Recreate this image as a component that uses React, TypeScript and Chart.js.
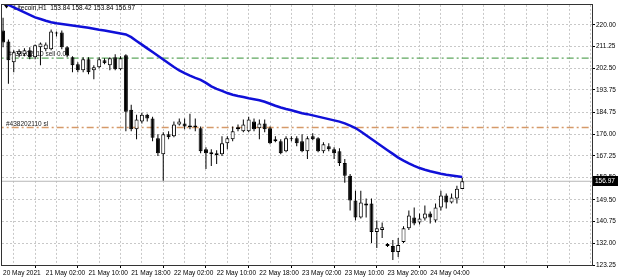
import React, { useEffect, useRef } from "react";
import { Chart, registerables } from "chart.js";

Chart.register(...registerables);

const SYMBOL = "Litecoin,H1";

// Hourly candles (index 0 = 20 May 2021 18:00)
const opens = [
  217.7, 213.3, 204.9, 208.1, 208.1, 209.7, 206.9, 210.9, 210.1, 210.1,
  216.9, 216.9, 210.9, 206.9, 204.1, 201.7, 206.1, 201.7, 202.9, 205.7,
  203.7, 206.9, 202.1, 207.7, 185.8, 177.9, 181.0, 183.8, 182.2, 174.3,
  167.9, 175.9, 175.1, 179.8, 180.2, 179.4, 179.4, 178.3, 169.9, 168.7,
  168.3, 167.9, 172.3, 173.9, 178.7, 177.1, 177.1, 181.0, 178.3, 180.2,
  178.3, 173.9, 173.1, 169.1, 173.9, 174.3, 173.1, 169.1, 175.1, 174.3,
  169.1, 171.1, 169.9, 169.1, 164.3, 159.2, 149.2, 142.4, 148.0, 148.0,
  136.5, 137.3, 131.7, 130.9, 128.5, 132.5, 138.1, 142.4, 140.4, 142.0,
  144.0, 141.2, 146.4, 151.2, 148.4, 150.0, 153.84,
];
const highs = [
  222.8, 214.1, 209.7, 210.1, 210.5, 210.9, 212.1, 212.9, 212.9, 218.1,
  217.3, 217.7, 211.3, 207.3, 204.9, 206.9, 206.9, 203.7, 206.9, 206.5,
  206.9, 208.1, 207.3, 208.1, 187.8, 183.8, 184.6, 184.2, 183.0, 175.9,
  176.7, 177.1, 181.0, 182.2, 182.2, 184.2, 182.2, 179.0, 170.7, 169.9,
  169.5, 175.1, 175.1, 179.0, 179.8, 181.8, 183.0, 182.2, 181.8, 181.8,
  179.0, 175.1, 173.9, 175.1, 175.1, 175.1, 175.9, 175.1, 176.3, 174.7,
  172.7, 172.3, 170.7, 170.3, 165.9, 159.9, 153.2, 153.2, 150.0, 150.0,
  141.2, 140.4, 132.1, 133.3, 134.1, 138.9, 145.2, 146.4, 144.0, 147.2,
  144.8, 148.0, 153.2, 152.0, 152.0, 155.2, 158.42,
];
const lows = [
  210.9, 196.2, 200.9, 206.9, 207.3, 206.1, 206.1, 203.7, 209.3, 209.7,
  215.3, 210.1, 206.9, 200.9, 200.9, 200.9, 200.1, 198.1, 202.5, 204.1,
  201.7, 201.7, 201.7, 177.1, 177.1, 173.9, 180.2, 181.0, 173.1, 167.1,
  157.2, 173.9, 174.7, 179.4, 177.9, 177.9, 177.1, 168.3, 161.9, 163.1,
  163.9, 167.1, 169.9, 173.1, 177.1, 176.7, 176.7, 177.1, 173.9, 176.7,
  171.9, 172.7, 167.9, 168.7, 173.1, 171.1, 168.7, 165.9, 173.5, 168.7,
  168.3, 169.1, 165.9, 163.1, 156.4, 145.2, 141.2, 142.0, 142.4, 132.1,
  130.1, 134.1, 130.5, 125.3, 126.5, 132.1, 137.3, 139.3, 139.6, 141.2,
  140.0, 140.4, 145.2, 146.0, 148.0, 148.0, 153.84,
];
const closes = [
  212.9, 205.7, 208.9, 209.3, 209.7, 206.9, 211.7, 212.5, 212.1, 217.3,
  216.5, 210.9, 207.7, 203.7, 201.7, 206.1, 200.9, 202.9, 206.1, 204.5,
  206.5, 202.1, 206.5, 185.0, 177.9, 181.8, 183.8, 182.2, 174.5, 168.3,
  175.9, 174.7, 179.8, 181.0, 179.0, 178.7, 178.7, 169.1, 168.3, 167.9,
  167.5, 172.3, 174.3, 177.1, 177.9, 179.8, 181.8, 177.9, 180.2, 177.9,
  172.3, 173.1, 168.3, 174.3, 174.3, 172.3, 169.1, 174.3, 173.9, 169.1,
  171.9, 169.9, 168.3, 164.3, 159.2, 149.2, 142.4, 148.4, 147.2, 136.5,
  138.1, 138.5, 130.9, 128.5, 131.3, 138.1, 143.2, 140.0, 142.0, 144.0,
  142.4, 146.4, 151.2, 148.4, 150.4, 154.0, 156.97,
];
// Moving average
const ma = [
  229.0, 228.0, 227.0, 226.0, 225.0, 224.0, 223.0, 222.3, 221.6, 221.0,
  220.6, 220.3, 220.0, 219.7, 219.4, 219.1, 218.8, 218.4, 218.0, 217.7,
  217.3, 216.9, 216.5, 216.1, 215.0, 213.5, 212.0, 210.5, 209.0, 207.5,
  206.0, 204.5, 203.0, 201.6, 200.5, 199.5, 198.6, 197.8, 196.6, 195.2,
  194.2, 193.4, 192.5, 191.8, 191.3, 190.9, 190.4, 190.0, 189.6, 189.0,
  188.2, 187.4, 186.7, 186.1, 185.6, 185.0, 184.4, 184.0, 183.5, 183.0,
  182.5, 182.0, 181.5, 181.0, 180.3, 179.4, 178.4, 177.0, 175.5, 174.0,
  172.5, 171.0, 169.5, 168.0, 166.5, 165.3, 164.2, 163.2, 162.3, 161.6,
  161.0, 160.5, 160.0, 159.6, 159.3, 159.0, 158.7,
];

const xTickLabels = [
  "20 May 2021", "21 May 02:00", "21 May 10:00", "21 May 18:00",
  "22 May 02:00", "22 May 10:00", "22 May 18:00", "23 May 02:00",
  "23 May 10:00", "23 May 20:00", "24 May 04:00",
];
const yTickValues = [220.0, 211.25, 202.5, 193.75, 184.75, 176.0, 167.25, 158.5, 149.5, 140.75, 132.0, 123.25];

const ORDER_ID = "#438202110";
const sellLevel = 206.6;
const slLevel = 178.6;

const X_MIN = -0.2;
const X_MAX = 110.3;
const Y_MIN = 123.25;
const Y_MAX = 228;
const FONT = "Liberation Sans";
const FS = 6.5;

export default function App() {
  const ref = useRef<HTMLCanvasElement>(null);

  useEffect(() => {
    document.body.style.margin = "0";
    const canvas = ref.current!;
    const idx = opens.map((_, i) => i);
    const bodies = idx.map((i) => ({ x: i, y: [opens[i], closes[i]] }));
    const wicks = idx.map((i) => ({ x: i, y: [lows[i], highs[i]] }));
    const maData = idx.map((i) => ({ x: i, y: ma[i] }));
    const last = closes.length - 1;
    const level = (v: number) => [{ x: X_MIN - 1, y: v }, { x: X_MAX + 1, y: v }];
    const gridIdx: number[] = [];
    for (let v = 0; v <= X_MAX; v += 4) gridIdx.push(v);

    const overlay = {
      id: "mtOverlay",
      beforeDatasetsDraw(chart: any) {
        const { ctx, chartArea } = chart;
        const ys = chart.scales.y;
        ctx.save();
        ctx.font = `${FS}px ${FONT}`;
        ctx.fillStyle = "#000";
        ctx.textBaseline = "middle";
        // title with small triangle
        ctx.beginPath();
        ctx.moveTo(chartArea.left + 2, 5);
        ctx.lineTo(chartArea.left + 7, 5);
        ctx.lineTo(chartArea.left + 4.5, 8.5);
        ctx.closePath();
        ctx.fill();
        const title = `${SYMBOL}  ${opens[last].toFixed(2)} ${highs[last].toFixed(2)} ${lows[last].toFixed(2)} ${closes[last].toFixed(2)}`;
        ctx.fillText(title, chartArea.left + 12, 8);
        // order labels
        ctx.fillStyle = "#222";
        ctx.textBaseline = "alphabetic";
        ctx.fillText(`${ORDER_ID} sell 0.01`, chartArea.left + 6, ys.getPixelForValue(sellLevel) - 2);
        ctx.fillText(`${ORDER_ID} sl`, chartArea.left + 4, ys.getPixelForValue(slLevel) - 2);
        ctx.restore();
      },
      afterDraw(chart: any) {
        const { ctx, chartArea } = chart;
        const ys = chart.scales.y;
        ctx.save();
        ctx.strokeStyle = "#333";
        ctx.lineWidth = 1;
        ctx.strokeRect(
          Math.round(chartArea.left) - 0.5,
          Math.round(chartArea.top) - 0.5,
          Math.round(chartArea.right - chartArea.left) + 1,
          Math.round(chartArea.bottom - chartArea.top) + 1
        );
        const py = Math.round(ys.getPixelForValue(closes[last]));
        ctx.fillStyle = "#000";
        ctx.fillRect(Math.round(chartArea.right) + 1, py - 5, 25, 10);
        ctx.fillStyle = "#fff";
        ctx.font = `${FS}px ${FONT}`;
        ctx.textBaseline = "middle";
        ctx.fillText(closes[last].toFixed(2), Math.round(chartArea.right) + 3, py + 0.5);
        ctx.restore();
      },
    };

    const chart = new Chart(canvas, {
      type: "bar",
      data: {
        datasets: [
          {
            type: "line",
            data: maData as any,
            borderColor: "#1010d8",
            borderWidth: 2.5,
            pointRadius: 0,
            tension: 0,
            order: 0,
          } as any,
          {
            type: "bar",
            data: bodies as any,
            backgroundColor: idx.map((i) => (closes[i] >= opens[i] ? "#ffffff" : "#000000")),
            borderColor: "#000000",
            borderWidth: 1,
            borderSkipped: false,
            barThickness: 4,
            minBarLength: 1,
            grouped: false,
            inflateAmount: 0,
            order: 1,
          } as any,
          {
            type: "bar",
            data: wicks as any,
            backgroundColor: "#000000",
            borderWidth: 0,
            barThickness: 1,
            grouped: false,
            inflateAmount: 0,
            order: 2,
          } as any,
          {
            type: "line",
            data: level(closes[last]) as any,
            borderColor: "#b8b8b8",
            borderWidth: 1,
            pointRadius: 0,
            order: 3,
          } as any,
          {
            type: "line",
            data: level(sellLevel) as any,
            borderColor: "#5fa85f",
            borderWidth: 1.2,
            borderDash: [7, 3, 2, 3],
            pointRadius: 0,
            order: 3,
          } as any,
          {
            type: "line",
            data: level(slLevel) as any,
            borderColor: "#d59a6a",
            borderWidth: 1.6,
            borderDash: [7, 3, 2, 3],
            pointRadius: 0,
            order: 3,
          } as any,
        ],
      },
      options: {
        animation: false,
        responsive: false,
        devicePixelRatio: 1,
        layout: { padding: { left: 2, top: 2, right: 0, bottom: 0 } },
        plugins: { legend: { display: false }, tooltip: { enabled: false }, title: { display: false } },
        scales: {
          x: {
            type: "linear",
            min: X_MIN,
            max: X_MAX,
            offset: false,
            afterBuildTicks: (s: any) => {
              s.ticks = gridIdx.map((v) => ({ value: v }));
            },
            afterFit: (s: any) => {
              s.height = 15;
            },
            grid: {
              color: "#c8c8c8",
              lineWidth: 1,
              drawTicks: true,
              tickLength: 3,
              tickWidth: 1,
              tickBorderDash: [],
              tickColor: (c: any) => (c.tick && Math.round(c.tick.value) % 8 === 0 ? "#000" : "rgba(0,0,0,0)"),
            },
            border: { display: false, dash: [2, 2] },
            ticks: {
              autoSkip: false,
              maxRotation: 0,
              minRotation: 0,
              align: "start",
              padding: 1,
              color: "#000",
              font: { family: FONT, size: FS },
              callback: (value: any) => {
                const v = Math.round(Number(value));
                return v % 8 === 0 && v / 8 < xTickLabels.length ? xTickLabels[v / 8] : "";
              },
            },
          },
          y: {
            position: "right",
            min: Y_MIN,
            max: Y_MAX,
            afterBuildTicks: (s: any) => {
              s.ticks = yTickValues.map((v) => ({ value: v }));
            },
            afterFit: (s: any) => {
              s.width = 28;
            },
            grid: {
              color: "#c8c8c8",
              lineWidth: 1,
              drawTicks: true,
              tickLength: 3,
              tickWidth: 1,
              tickBorderDash: [],
              tickColor: "#000",
            },
            border: { display: false, dash: [2, 2] },
            ticks: {
              padding: 1,
              color: "#000",
              font: { family: FONT, size: FS },
              callback: (value: any) => Number(value).toFixed(2),
            },
          },
        },
      } as any,
      plugins: [overlay],
    });
    return () => chart.destroy();
  }, []);

  return (
    <canvas
      ref={ref}
      width={620}
      height={280}
      style={{ display: "block", width: "620px", height: "280px" }}
    />
  );
}
